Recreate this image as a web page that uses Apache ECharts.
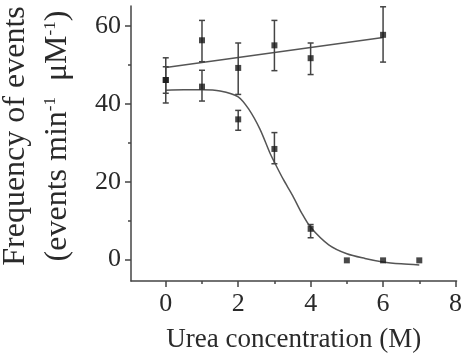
<!DOCTYPE html>
<html>
<head>
<meta charset="utf-8">
<script src="https://cdn.jsdelivr.net/npm/echarts@6/dist/echarts.min.js"></script>
<style>
  html, body { margin: 0; padding: 0; background: #fff; }
  #main { width: 465px; height: 358px; }
</style>
</head>
<body>
<div id="main"></div>
<script>
// native (upper) series
var ureaA = [0, 1, 2, 3, 4, 6];
var freqA = [46.1, 56.3, 49.2, 55.0, 51.7, 57.7];
var lowA = [40.2, 50.8, 42.4, 48.5, 47.5, 50.7];
var highA = [51.8, 61.4, 55.6, 61.4, 55.6, 64.9];

// denatured (lower) series
var ureaB = [0, 1, 2, 3, 4, 5, 6, 7];
var freqB = [46.1, 44.4, 36.0, 28.4, 7.9, -0.2, -0.2, -0.2];
var lowB = [42.7, 40.7, 33.2, 24.6, 5.6, null, null, null];
var highB = [49.5, 48.6, 38.3, 32.6, 9.0, null, null, null];

// fit lines
var fitAX = [0, 6];
var fitAY = [49.3, 57.0];
var fitBX = [0, 0.5, 1, 1.5, 2, 2.3, 2.6, 2.87, 3, 3.25, 3.5, 3.75, 4, 4.5, 5, 5.5, 6, 6.5, 7];
var fitBY = [43.5, 43.6, 43.6, 43.3, 41.8, 38.5, 33.5, 27.5, 25.0, 20.5, 16.5, 12.0, 8.3, 3.8, 1.5, 0.3, -0.6, -1.1, -1.4];

var xLabels = [0, 2, 4, 6, 8];
var xMinor = [1, 3, 5, 7];
var yLabels = [0, 20, 40, 60];
var yMinor = [10, 30, 50];

var serif = 'Liberation Serif';
var ink = '#2a2a2a';

function pairs(xs, ys) {
  var out = [];
  for (var i = 0; i < xs.length; i++) out.push([xs[i], ys[i]]);
  return out;
}
function errData(xs, lo, hi) {
  var out = [];
  for (var i = 0; i < xs.length; i++) {
    if (lo[i] != null) out.push([xs[i], lo[i], hi[i]]);
  }
  return out;
}

function renderErr(params, api) {
  var top = api.coord([api.value(0), api.value(2)]);
  var bot = api.coord([api.value(0), api.value(1)]);
  var w = 3;
  var st = { stroke: '#444', lineWidth: 1.5 };
  return {
    type: 'group',
    children: [
      { type: 'line', shape: { x1: top[0], y1: top[1], x2: bot[0], y2: bot[1] }, style: st },
      { type: 'line', shape: { x1: top[0] - w, y1: top[1], x2: top[0] + w, y2: top[1] }, style: st },
      { type: 'line', shape: { x1: bot[0] - w, y1: bot[1], x2: bot[0] + w, y2: bot[1] }, style: st }
    ]
  };
}

var myChart = echarts.init(document.getElementById('main'));

var tickStyle = { color: '#444', width: 1.5 };
var labelRich = { t: { fontFamily: serif, fontSize: 26, color: ink } };

option = {
  animation: false,
  backgroundColor: '#fff',
  textStyle: { fontFamily: serif },
  grid: { left: 131, right: 8, top: 6, bottom: 76, containLabel: false },
  xAxis: [{
    type: 'value',
    min: -0.96,
    max: 8.03,
    axisLine: { onZero: false, lineStyle: tickStyle },
    axisTick: { show: true, length: 6, customValues: xLabels, lineStyle: tickStyle },
    axisLabel: { customValues: xLabels, formatter: '{t|{value}}', rich: labelRich, margin: 10 },
    splitLine: { show: false },
    name: 'Urea concentration (M)',
    nameLocation: 'middle',
    nameGap: 45,
    nameTextStyle: { fontFamily: serif, fontSize: 27, color: ink }
  }, {
    type: 'value',
    min: -0.96,
    max: 8.03,
    position: 'bottom',
    axisLine: { show: false, onZero: false },
    axisTick: { show: true, length: 3, customValues: xMinor, lineStyle: tickStyle },
    axisLabel: { show: false },
    splitLine: { show: false }
  }],
  yAxis: [{
    type: 'value',
    min: -5.5,
    max: 65.1,
    axisLine: { onZero: false, lineStyle: tickStyle },
    axisTick: { show: true, length: 6, customValues: yLabels, lineStyle: tickStyle },
    axisLabel: { customValues: yLabels, formatter: '{t|{value}}', rich: labelRich, margin: 10 },
    splitLine: { show: false }
  }, {
    type: 'value',
    min: -5.5,
    max: 65.1,
    position: 'left',
    axisLine: { show: false, onZero: false },
    axisTick: { show: true, length: 3, customValues: yMinor, lineStyle: tickStyle },
    axisLabel: { show: false },
    splitLine: { show: false }
  }],
  graphic: [{
    type: 'text',
    x: 16,
    y: 136,
    rotation: Math.PI / 2,
    style: {
      text: 'Frequency of events',
      font: '32px "Liberation Serif"',
      fill: ink,
      textAlign: 'center',
      textVerticalAlign: 'middle'
    }
  }, {
    type: 'text',
    x: 58,
    y: 136,
    rotation: Math.PI / 2,
    style: {
      text: '(events min{s|-1}  μM{s|-1})',
      font: '32px "Liberation Serif"',
      fill: ink,
      textAlign: 'center',
      textVerticalAlign: 'middle',
      rich: {
        s: { fontSize: 17, fontFamily: serif, fill: ink, padding: [0, 0, 14, 0] }
      }
    }
  }],
  series: [{
    name: 'fitA',
    type: 'line',
    data: pairs(fitAX, fitAY),
    showSymbol: false,
    lineStyle: { color: '#555', width: 1.5 },
    z: 2
  }, {
    name: 'fitB',
    type: 'line',
    data: pairs(fitBX, fitBY),
    smooth: 0.3,
    showSymbol: false,
    lineStyle: { color: '#555', width: 1.5 },
    z: 2
  }, {
    name: 'errA',
    type: 'custom',
    renderItem: renderErr,
    data: errData(ureaA, lowA, highA),
    z: 3
  }, {
    name: 'errB',
    type: 'custom',
    renderItem: renderErr,
    data: errData(ureaB, lowB, highB),
    z: 3
  }, {
    name: 'A',
    type: 'scatter',
    data: pairs(ureaA, freqA),
    symbol: 'rect',
    symbolSize: 6,
    itemStyle: { color: '#1a1a1a' },
    z: 4
  }, {
    name: 'B',
    type: 'scatter',
    data: pairs(ureaB, freqB),
    symbol: 'rect',
    symbolSize: 6,
    itemStyle: { color: '#1a1a1a' },
    z: 4
  }]
};
myChart.setOption(option);
</script>
</body>
</html>
